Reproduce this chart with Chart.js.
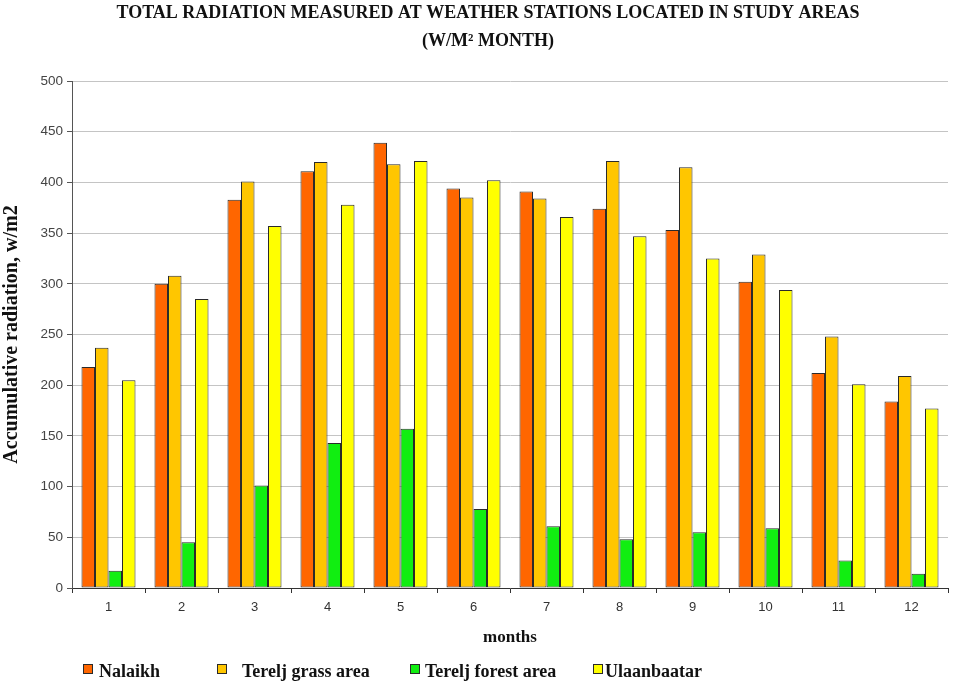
<!DOCTYPE html>
<html>
<head>
<meta charset="utf-8">
<script src="https://cdn.jsdelivr.net/npm/chart.js@4/dist/chart.umd.min.js"></script>
<style>
  html, body { margin: 0; padding: 0; background: #ffffff; }
  #c { display: block; }
</style>
</head>
<body>
<canvas id="c" width="953" height="684"></canvas>
<script>
// Monthly total radiation per station (W/m² month)
const months = ['1', '2', '3', '4', '5', '6', '7', '8', '9', '10', '11', '12'];
const nalaikh      = [218, 300, 383, 411, 439, 394, 391, 374, 353, 302, 212, 184];
const tereljGrass  = [237, 308, 401, 420, 418, 385, 384, 421, 415, 329, 248, 209];
const tereljForest = [17, 45, 101, 143, 157, 78, 61, 48, 55, 59, 27, 14];
const ulaanbaatar  = [205, 285, 357, 378, 421, 402, 366, 347, 325, 294, 201, 177];
const seriesNames  = ['Nalaikh', 'Terelj grass area', 'Terelj forest area', 'Ulaanbaatar'];
const yTicks       = [0, 50, 100, 150, 200, 250, 300, 350, 400, 450, 500];
const titleLines   = ['TOTAL RADIATION MEASURED AT WEATHER STATIONS LOCATED IN STUDY AREAS', '(W/M² MONTH)'];

const colors = ['#FF6600', '#FFC600', '#11EE11', '#FFFF00'];
const edge = '#2a2a2a';
const serif = '"Liberation Serif", "Times New Roman", serif';
const sans = '"Liberation Sans", Arial, sans-serif';

// Two-line heading, centred over the plot rather than the whole canvas
const heading = {
  id: 'heading',
  afterDraw(chart, args, opts) {
    const ctx = chart.ctx;
    ctx.save();
    ctx.font = 'bold 18px ' + serif;
    ctx.fillStyle = '#111';
    ctx.textAlign = 'center';
    ctx.textBaseline = 'middle';
    const cx = (chart.chartArea.left + chart.chartArea.right) / 2 - 22;
    opts.lines.forEach((line, i) => ctx.fillText(line, cx, opts.ys[i]));
    ctx.restore();
  }
};

// Legend row along the bottom, with the spacing of the original sheet
const legendRow = {
  id: 'legendRow',
  afterDraw(chart, args, opts) {
    const ctx = chart.ctx;
    ctx.save();
    ctx.font = 'bold 18px ' + serif;
    ctx.textBaseline = 'middle';
    chart.data.datasets.forEach((ds, i) => {
      const x = opts.xs[i];
      const y = opts.y;
      ctx.fillStyle = ds.backgroundColor;
      ctx.fillRect(x, y - 5, 9, 9);
      ctx.strokeStyle = edge;
      ctx.lineWidth = 1;
      ctx.strokeRect(x + 0.5, y - 4.5, 9, 9);
      ctx.fillStyle = '#111';
      ctx.fillText(ds.label, opts.textXs[i], y + 3);
    });
    ctx.restore();
  }
};

const seriesValues = [nalaikh, tereljGrass, tereljForest, ulaanbaatar];

new Chart(document.getElementById('c'), {
  type: 'bar',
  data: {
    labels: months,
    datasets: seriesValues.map((vals, i) => ({
      label: seriesNames[i],
      data: vals,
      backgroundColor: colors[i],
      borderColor: edge,
      borderWidth: 1,
      borderSkipped: false,
      barPercentage: 1.0,
      categoryPercentage: 0.74
    }))
  },
  options: {
    responsive: false,
    animation: false,
    layout: { padding: { left: 0, right: 5, top: 81, bottom: 36 } },
    plugins: {
      legend: { display: false },
      tooltip: { enabled: false },
      title: { display: false },
      heading: { lines: titleLines, ys: [13, 41] },
      legendRow: { xs: [83, 217, 410, 593], textXs: [99, 242, 425, 605], y: 669 }
    },
    scales: {
      x: {
        grid: {
          offset: true,
          drawOnChartArea: false,
          drawTicks: true,
          tickLength: 5,
          color: '#333'
        },
        border: { color: '#333', width: 1 },
        ticks: { color: '#333', font: { family: sans, size: 13 }, padding: 7 },
        title: {
          display: true,
          text: 'months',
          color: '#111',
          font: { family: serif, size: 17, weight: 'bold' },
          padding: { top: 3, bottom: 0 }
        },
        afterFit(scale) { scale.height = 60; }
      },
      y: {
        min: 0,
        max: 500,
        afterBuildTicks(scale) { scale.ticks = yTicks.map(v => ({ value: v })); },
        grid: {
          color: '#c4c4c4',
          lineWidth: 1,
          tickLength: 5,
          tickColor: '#555'
        },
        border: { color: '#555', width: 1 },
        ticks: { color: '#444', font: { family: sans, size: 13.5 }, padding: 4 },
        title: {
          display: true,
          text: 'Accumulative radiation, w/m2',
          color: '#111',
          font: { family: serif, size: 20, weight: 'bold' },
          padding: { top: 0, bottom: 4 }
        },
        afterFit(scale) { scale.width = 72; }
      }
    }
  },
  plugins: [heading, legendRow]
});
</script>
</body>
</html>
